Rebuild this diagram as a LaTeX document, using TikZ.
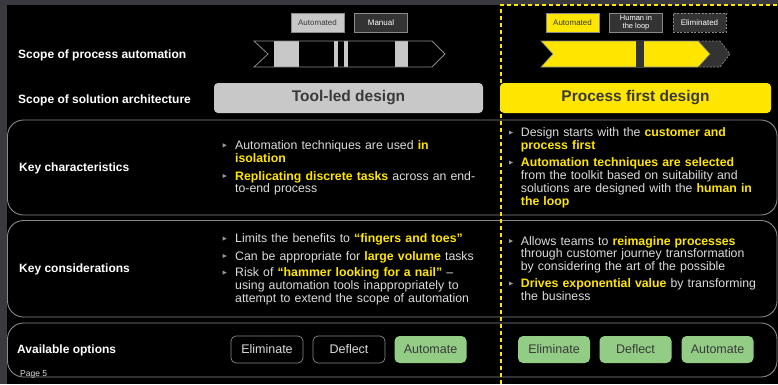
\documentclass[tikz,border=0pt]{standalone}
\usepackage{fontspec}
\setmainfont{Liberation Sans}
\definecolor{frame}{HTML}{3A3940}
\definecolor{rowgray}{HTML}{8A8A8A}
\definecolor{lgray}{HTML}{C8C8C8}
\definecolor{dgray}{HTML}{333333}
\definecolor{ey}{HTML}{FFE600}
\definecolor{okgreen}{HTML}{92CC85}
\definecolor{txt}{HTML}{DCDCDC}
\definecolor{bulgray}{HTML}{9A9A9A}
\definecolor{darktext}{HTML}{3A3A3A}
\newcommand\yb[1]{{\bfseries\color{ey}#1}}
\newcommand\bulat[2]{\fill[bulgray] ({#1},{#2-6}) -- ({#1+4},{#2-4}) -- ({#1},{#2-2}) -- cycle;}
\begin{document}
\begin{tikzpicture}[x=1pt,y=-1pt,
  rowbox/.style={draw=rowgray, line width=0.9pt, rounded corners=16pt},
  lbl/.style={anchor=base west, inner sep=0, text=white, font=\bfseries\fontsize{12}{14}\selectfont},
  item/.style={anchor=base west, inner sep=0, text width=300pt, align=left, text=txt, font=\fontsize{12.3}{12.8}\selectfont},
  leg/.style={draw=rowgray, line width=0.6pt, minimum width=53pt, minimum height=19pt, inner sep=0, font=\fontsize{8}{8.5}\selectfont, align=center},
  head/.style={rounded corners=4pt, minimum height=30pt, inner sep=0, font=\bfseries\fontsize{15.5}{17}\selectfont, text=darktext},
  btn/.style={rounded corners=5pt, minimum width=72pt, minimum height=27pt, inner sep=0, font=\fontsize{12.5}{14}\selectfont},
  btnoff/.style={btn, draw=rowgray, line width=0.7pt, fill=black, text=txt},
  btnon/.style={btn, fill=okgreen, text=darktext},
  eydash/.style={draw=ey, line width=1.1pt, dash pattern=on 4pt off 3pt}
]
\useasboundingbox (0,0) rectangle (778,384);
\fill[frame] (0,0) rectangle (778,384);
\fill[black] (7,5) rectangle (778,384);

% row boxes
\draw[rowbox] (7.5,120) rectangle (777,215);
\draw[rowbox] (7.5,220.5) rectangle (777,317);
\draw[rowbox] (7.5,323) rectangle (777,377);

% left labels
\node[lbl] (l1) at (18,58.3) {Scope of process automation};
\node[lbl] (l2) at (18,103.3) {Scope of solution architecture};
\node[lbl] (l3) at (19,171) {Key characteristics};
\node[lbl] (l4) at (19,272.5) {Key considerations};
\node[lbl] (l5) at (17,353.3) {Available options};
\node[anchor=base west, inner sep=0, text=txt, font=\fontsize{8.5}{9}\selectfont] (pg) at (20,376) {Page 5};

% legends left
\node[leg, fill=lgray, text=darktext] (la) at (317.5,22.5) {Automated};
\node[leg, fill=dgray, text=white] (lm) at (381,22.5) {Manual};
% legends right
\node[leg, fill=ey, text=darktext] (ra) at (572.5,22.5) {Automated};
\node[leg, fill=dgray, text=white, font=\fontsize{7.5}{8}\selectfont] (rh) at (636,22.5) {Human in\\the loop};
\node[leg, fill=dgray, text=white, dashed, dash pattern=on 2pt off 1.5pt] (re) at (699.5,22.5) {Eliminated};

% left chevron
\fill[lgray] (274,41) rectangle (299,67);
\fill[lgray] (334,41) rectangle (337.5,67);
\fill[lgray] (344,41) rectangle (348,67);
\fill[lgray] (395,41) rectangle (408,67);
\draw[rowgray, line width=0.8pt] (254,41) -- (432,41) -- (445,54) -- (432,67) -- (254,67) -- (268,54) -- cycle;

% right chevron
\fill[dgray] (698,41) -- (720,41) -- (730,54) -- (720,67) -- (698,67) -- (710,54) -- cycle;
\draw[rowgray, line width=0.7pt, dash pattern=on 2pt off 1.5pt] (698,41) -- (720,41) -- (730,54) -- (720,67) -- (698,67);
\fill[ey, draw=rowgray, line width=0.6pt] (541,41) -- (698,41) -- (710,54) -- (698,67) -- (541,67) -- (553,54) -- cycle;
\fill[dgray] (636,41.3) rectangle (644,66.7);

% headers
\node[head, fill=lgray, minimum width=269pt] (tl) at (348.5,98) {Tool-led design};
\node[head, fill=ey, minimum width=271pt] (pf) at (635.5,98) {Process first design};

% row 1 left
\bulat{222.7}{149.3}
\node[item] (a1) at (235,149.3) {Automation techniques are used \yb{in}\\\yb{isolation}};
\bulat{222.7}{180}
\node[item] (a2) at (235,180) {\yb{Replicating discrete tasks} across an end-\\to-end process};
% row 1 right
\bulat{509}{136.6}
\node[item] (b1) at (520.7,136.6) {Design starts with the \yb{customer and}\\\yb{process first}};
\bulat{509}{166.6}
\node[item] (b2) at (520.7,166.6) {\yb{Automation techniques are selected}\\from the toolkit based on suitability and\\solutions are designed with the \yb{human in}\\\yb{the loop}};

% row 2 left
\bulat{222.7}{242.6}
\node[item] (c1) at (235,242.6) {Limits the benefits to \yb{“fingers and toes”}};
\bulat{222.7}{260}
\node[item] (c2) at (235,260) {Can be appropriate for \yb{large volume} tasks};
\bulat{222.7}{276.6}
\node[item] (c3) at (235,276.6) {Risk of \yb{“hammer looking for a nail”} –\\using automation tools inappropriately to\\attempt to extend the scope of automation};
% row 2 right
\bulat{509}{245}
\node[item] (d1) at (520.7,245) {Allows teams to \yb{reimagine processes}\\through customer journey transformation\\by considering the art of the possible};
\bulat{509}{287.6}
\node[item] (d2) at (520.7,287.6) {\yb{Drives exponential value} by transforming\\the business};

% row 3 buttons
\node[btnoff] (e1) at (267,349.5) {Eliminate};
\node[btnoff] (e2) at (349,349.5) {Deflect};
\node[btnon] (e3) at (430.5,349.5) {Automate};
\node[btnon] (f1) at (554,349.5) {Eliminate};
\node[btnon] (f2) at (635.5,349.5) {Deflect};
\node[btnon] (f3) at (717.5,349.5) {Automate};

% dashed yellow frame
\draw[eydash] (501,384) -- (501,5) -- (778,5);
\end{tikzpicture}
\end{document}
